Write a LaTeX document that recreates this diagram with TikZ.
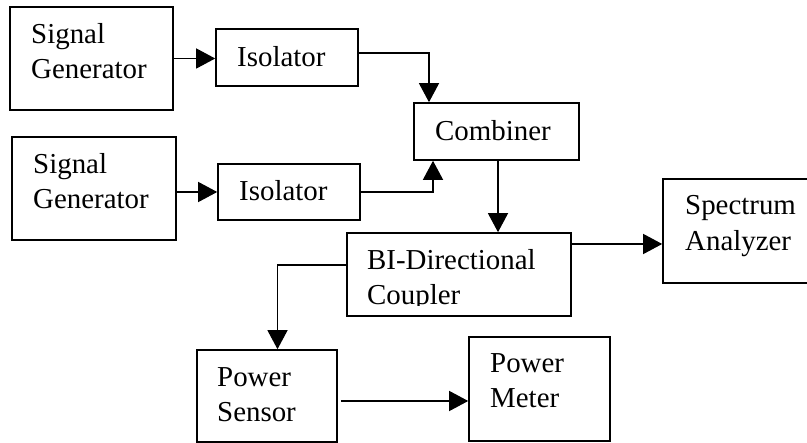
\documentclass[tikz,border=0pt]{standalone}
\usepackage{fontspec}
\setmainfont{Liberation Serif}
\usetikzlibrary{arrows.meta,calc}
\begin{document}
\begin{tikzpicture}[x=1pt,y=-1pt,
  box/.style={draw,line width=1.6pt,inner sep=0pt},
  lbl/.style={anchor=base west,inner sep=0pt,font=\fontsize{28.9}{35}\selectfont},
  arr/.style={line width=1.3pt,-{Triangle[length=19pt,width=20pt]}},
  wire/.style={line width=1.3pt}]
\useasboundingbox (0,0) rectangle (807,443);
% boxes
\node[box,minimum width=163pt,minimum height=103pt] (sg1) at (91.5,58.5) {};
\node[box,minimum width=142pt,minimum height=57pt] (iso1) at (287,57.5) {};
\node[box,minimum width=164pt,minimum height=103pt] (sg2) at (94,188.5) {};
\node[box,minimum width=142pt,minimum height=56pt] (iso2) at (289,192) {};
\node[box,minimum width=165pt,minimum height=57pt] (comb) at (496.5,131.5) {};
\node[box,minimum width=224pt,minimum height=83pt] (coup) at (459,274.5) {};
\node[box,minimum width=146pt,minimum height=104pt] (sa) at (736,231) {};
\node[box,minimum width=140pt,minimum height=92pt] (ps) at (267,396) {};
\node[box,minimum width=141pt,minimum height=104pt] (pm) at (539.5,389) {};
% labels
\node[lbl] (t1) at (31,44) {Signal};
\node[lbl] (t2) at (31,79) {Generator};
\node[lbl] (t3) at (237,67) {Isolator};
\node[lbl] (t4) at (33,174) {Signal};
\node[lbl] (t5) at (33,209) {Generator};
\node[lbl] (t6) at (239,201) {Isolator};
\node[lbl] (t7) at (435,141) {Combiner};
\node[lbl] (t8) at (685,215) {Spectrum};
\node[lbl] (t9) at (685,251) {Analyzer};
\node[lbl] (t10) at (367,270) {BI-Directional};
\begin{scope}
\clip (360,280) rectangle (560,306);
\node[lbl] (t11) at (367,305) {Coupler};
\end{scope}
\node[lbl] (t12) at (217,387) {Power};
\node[lbl] (t13) at (217,422) {Sensor};
\node[lbl] (t14) at (490,373) {Power};
\node[lbl] (t15) at (490,408) {Meter};
% connectors
\draw[arr] (sg1.east) -- (sg1.east -| iso1.west);
\draw[arr] ([yshift=4.5pt,xshift=-1pt]iso1.east) -| ([xshift=-67.5pt]comb.north);
\draw[arr] (sg2.east |- iso2.west) -- (iso2.west);
\draw[arr] (iso2.east) -| ([xshift=-63.5pt]comb.south);
\draw[arr] ([xshift=1.5pt]comb.south) -- ([xshift=1.5pt]comb.south |- coup.north);
\draw[arr] ([yshift=30.5pt]coup.east) -- ([yshift=30.5pt]coup.east -| sa.west);
\draw[arr] ([yshift=9.5pt]coup.west) -| ([xshift=10.5pt]ps.north);
\draw[arr] ([yshift=-5pt,xshift=3pt]ps.east) -- ([yshift=-5pt]ps.east -| pm.west);
\end{tikzpicture}
\end{document}
